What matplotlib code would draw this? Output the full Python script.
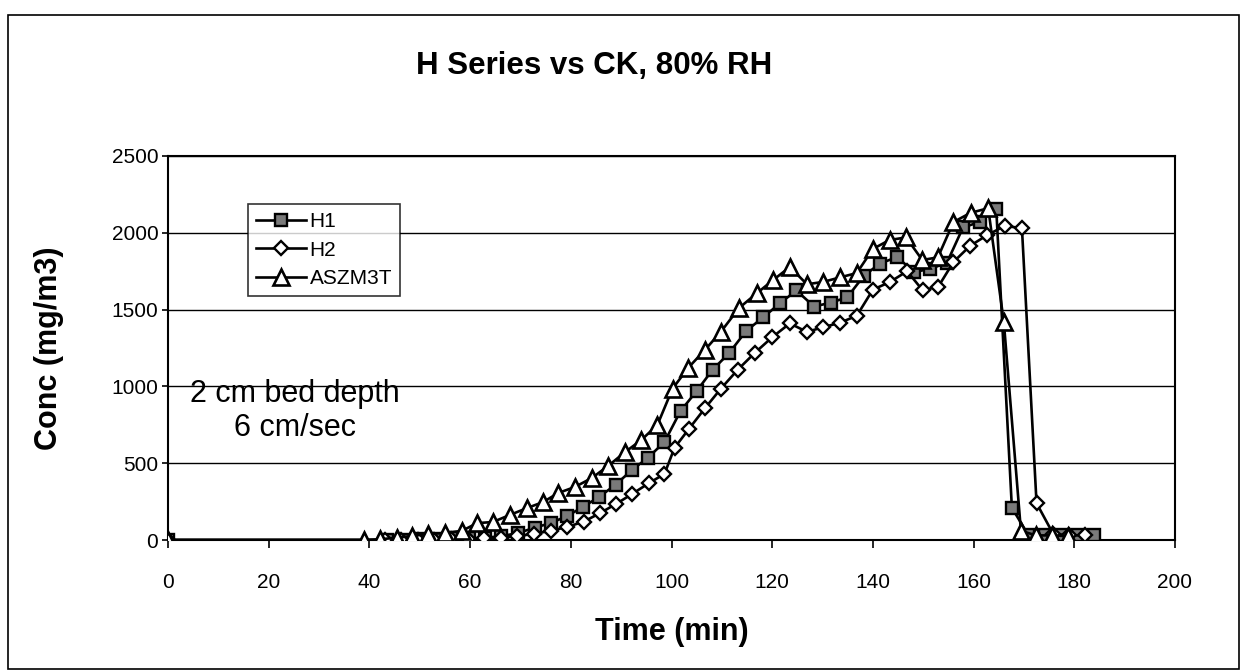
import matplotlib
matplotlib.use('Agg')
import matplotlib.pyplot as plt
from matplotlib.patches import Rectangle

plt.rcParams['font.family'] = ['Liberation Sans', 'DejaVu Sans']

# H1 (squares)
h1_time = [0, 43.5, 46.7, 50.0, 53.2, 56.5, 59.7, 63.0, 66.2, 69.5, 72.8, 76.0, 79.2,
           82.4, 85.6, 88.9, 92.1, 95.3, 98.6, 101.8, 105.0, 108.2, 111.4, 114.8,
           118.2, 121.5, 124.8, 128.3, 131.6, 134.9, 138.2, 141.4, 144.8, 148.2,
           151.4, 154.7, 157.9, 161.2, 164.5, 167.6, 170.9, 174.2, 177.4, 180.7, 184.0]
h1_conc = [0, 0, 0, 5, 5, 10, 10, 15, 25, 45, 80, 110, 155,
           215, 280, 360, 455, 535, 638, 840, 970, 1110, 1215, 1360,
           1450, 1540, 1625, 1520, 1545, 1580, 1720, 1800, 1842, 1745,
           1765, 1805, 2035, 2070, 2155, 210, 30, 30, 30, 30, 30]

# H2 (diamonds)
h2_time = [0, 43.0, 46.3, 49.6, 52.9, 56.2, 59.5, 62.8, 66.1, 69.4, 72.7, 76.0, 79.3,
           82.6, 85.8, 89.0, 92.2, 95.5, 98.6, 100.6, 103.5, 106.7, 109.8, 113.2,
           116.6, 120.0, 123.5, 126.9, 130.1, 133.5, 136.8, 140.0, 143.4, 146.8,
           149.9, 153.0, 156.0, 159.3, 162.7, 166.2, 169.6, 172.5, 175.8, 179.0, 182.2]
h2_conc = [0, 0, 0, 0, 2, 5, 5, 10, 15, 25, 40, 60, 85,
           120, 175, 235, 300, 370, 430, 600, 725, 860, 985, 1110,
           1220, 1320, 1410, 1355, 1385, 1415, 1460, 1630, 1680, 1750,
           1625, 1650, 1810, 1915, 1985, 2045, 2030, 240, 40, 30, 30]

# ASZM3T (triangles)
as_time = [0, 39.0, 42.2, 45.4, 48.4, 51.6, 55.0, 58.4, 61.4, 64.5, 67.9, 71.3, 74.5,
           77.5, 80.8, 84.2, 87.4, 90.8, 94.0, 97.2, 100.2, 103.3, 106.7, 109.8,
           113.4, 117.0, 120.2, 123.5, 126.9, 130.1, 133.5, 136.8, 140.0, 143.3,
           146.6, 149.8, 152.9, 156.0, 159.4, 162.9, 166.0, 169.4, 172.4, 175.6, 178.8]
as_conc = [0, 0, 5, 15, 25, 40, 45, 60, 110, 117, 163, 208, 247,
           306, 345, 404, 482, 573, 651, 749, 985, 1120, 1240, 1355,
           1510, 1608, 1693, 1777, 1665, 1680, 1710, 1738, 1895, 1953,
           1970, 1823, 1840, 2070, 2130, 2160, 1420, 60, 30, 30, 25]

x_ticks = [0, 20, 40, 60, 80, 100, 120, 140, 160, 180, 200]
y_ticks = [0, 500, 1000, 1500, 2000, 2500]

fig = plt.figure(figsize=(12.44, 6.71), dpi=100)
ax = fig.add_axes([168 / 1244, 1 - 540 / 671, (1175 - 168) / 1244, (540 - 156) / 671])

ax.plot(h1_time, h1_conc, color='black', lw=1.9, marker='s', ms=9,
        mfc='#7a7a7a', mec='black', mew=1.7, label='H1', zorder=3)
ax.plot(h2_time, h2_conc, color='black', lw=1.9, marker='D', ms=7,
        mfc='white', mec='black', mew=1.7, label='H2', zorder=3)
ax.plot(as_time, as_conc, color='black', lw=1.9, marker='^', ms=11,
        mfc='white', mec='black', mew=1.9, label='ASZM3T', zorder=4)

ax.set_xlim(0, 200)
ax.set_ylim(0, 2500)
ax.set_xticks(x_ticks)
ax.set_yticks(y_ticks)
ax.grid(axis='y', color='black', lw=1)
ax.set_axisbelow(True)
for s in ax.spines.values():
    s.set_linewidth(1.5)
ax.tick_params(axis='x', labelsize=15, direction='out', length=6, width=1.2, pad=18)
ax.tick_params(axis='y', labelsize=15, direction='out', length=4, width=1.2, pad=3)

ax.set_xlabel('Time (min)', fontsize=22, fontweight='bold', labelpad=18)
ax.set_ylabel('Conc (mg/m3)', fontsize=22, fontweight='bold', labelpad=34)
fig.text(594 / 1244, 1 - 66 / 671, 'H Series vs CK, 80% RH', fontsize=22.5,
         fontweight='bold', ha='center', va='center')

ax.text(25.2, 840, '2 cm bed depth\n6 cm/sec', fontsize=22, ha='center', va='center',
        linespacing=1.2)

leg = ax.legend(loc='upper left', bbox_to_anchor=(80 / 1007, 1 - 48 / 384),
                borderaxespad=0, fontsize=15, frameon=True, fancybox=False,
                edgecolor='black', handlelength=2.4, handletextpad=0.15,
                borderpad=0.4, labelspacing=0.45)
leg.get_frame().set_linewidth(1.2)

fig.patches.append(Rectangle((8 / 1244, 0.003), 1231 / 1244, 1 - 15 / 671 - 0.003,
                             transform=fig.transFigure, fill=False, ec='black', lw=1.2))

fig.savefig('out.png', dpi=100)
